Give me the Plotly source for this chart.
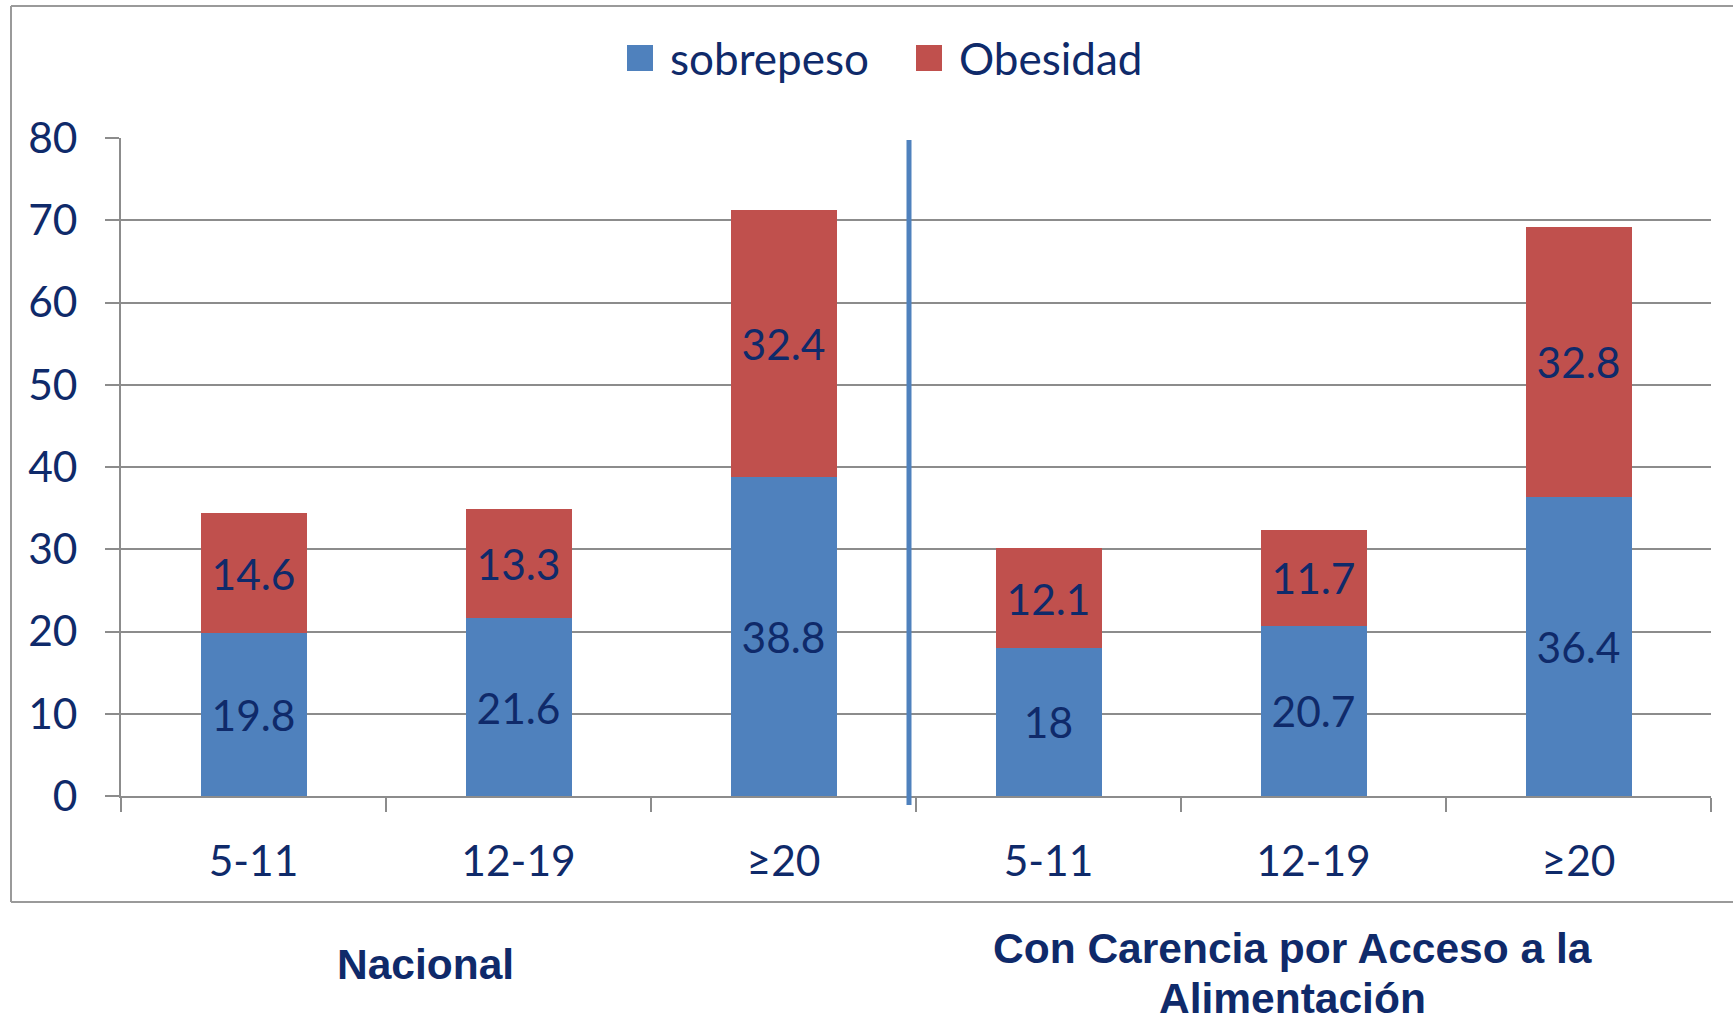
import plotly.graph_objects as go

# ---- data ----
categories = ["5-11", "12-19", "≥20", "5-11", "12-19", "≥20"]
group_labels = [["Nacional"], ["Con Carencia por Acceso a la", "Alimentación"]]
series_names = ["sobrepeso", "Obesidad"]
sobrepeso = [19.8, 21.6, 38.8, 18, 20.7, 36.4]
obesidad = [14.6, 13.3, 32.4, 12.1, 11.7, 32.8]
y_ticks = [0, 10, 20, 30, 40, 50, 60, 70, 80]

# ---- styling ----
W, H = 1733, 1018
L, R, T, B = 121, 1711, 138, 796          # plot area in pixels
BLUE = "#4F81BD"
RED = "#C0504D"
NAVY = "#0F2A6A"
GRID = "#8C8C8C"
FAMILY = "Lato, Carlito, Calibri, sans-serif"
TICK_FONT = dict(family=FAMILY, size=42.5, color=NAVY)


def px(x):
    return (x - L) / (R - L)


def py(y):
    return (B - y) / (B - T)


xpos = list(range(len(categories)))

fig = go.Figure()
for vals, name, col in [(sobrepeso, series_names[0], BLUE), (obesidad, series_names[1], RED)]:
    fig.add_trace(go.Bar(
        x=xpos, y=vals, name=name, marker_color=col,
        marker_line_width=0, text=vals, texttemplate="%{y}",
        textposition="inside", insidetextanchor="middle", textangle=0,
        constraintext="none", textfont=TICK_FONT, showlegend=False,
    ))

fig.update_layout(
    width=W, height=H, barmode="stack", bargap=0.6,
    margin=dict(l=L, r=W - R, t=T, b=H - B, pad=0),
    paper_bgcolor="white", plot_bgcolor="white",
    showlegend=False,
    font=TICK_FONT,
)
fig.update_xaxes(
    range=[-0.5, len(categories) - 0.5],
    tickmode="array", tickvals=xpos, ticktext=categories,
    ticks="", tickfont=TICK_FONT, ticklabelstandoff=27,
    showgrid=False, zeroline=False,
    showline=True, linecolor=GRID, linewidth=2,
    minor=dict(tick0=-0.5, dtick=1, ticks="outside", ticklen=14,
               tickcolor=GRID, tickwidth=2, showgrid=False),
)
fig.update_yaxes(
    range=[0, 80], tickmode="array", tickvals=y_ticks,
    ticks="outside", ticklen=14, tickcolor=GRID, tickwidth=2,
    tickfont=TICK_FONT, ticklabelstandoff=19,
    showgrid=True, gridcolor=GRID, gridwidth=2,
    zeroline=False, showline=True, linecolor=GRID, linewidth=2,
)

shapes = []
# outer border (left, top, bottom)
bx0, by0, by1 = 11, 6, 902
shapes.append(dict(type="line", xref="paper", yref="paper", x0=px(bx0), x1=px(bx0),
                   y0=py(by0), y1=py(by1), line=dict(color="#9A9A9A", width=2)))
shapes.append(dict(type="line", xref="paper", yref="paper", x0=px(bx0), x1=px(W + 5),
                   y0=py(by0), y1=py(by0), line=dict(color="#9A9A9A", width=2)))
shapes.append(dict(type="line", xref="paper", yref="paper", x0=px(bx0), x1=px(W + 5),
                   y0=py(by1), y1=py(by1), line=dict(color="#9A9A9A", width=2)))
# group divider
shapes.append(dict(type="line", xref="paper", yref="paper", x0=px(909), x1=px(909),
                   y0=py(140), y1=py(805), line=dict(color=BLUE, width=5)))
# legend swatches
for (x0, x1), col in [((627, 653), BLUE), ((916, 942), RED)]:
    shapes.append(dict(type="rect", xref="paper", yref="paper", x0=px(x0), x1=px(x1),
                       y0=py(71), y1=py(45), line_width=0, fillcolor=col))
fig.update_layout(shapes=shapes)

annotations = []
for name, xl in zip(series_names, [668, 957]):
    annotations.append(dict(text=name, xref="paper", yref="paper", x=px(xl), y=py(58),
                            xanchor="left", yanchor="middle", showarrow=False,
                            font=dict(family=FAMILY, size=44, color=NAVY)))
group_pos = [(425, [964]), (1292, [948, 998])]
for lines, (xc, ys) in zip(group_labels, group_pos):
    for line, yc in zip(lines, ys):
        annotations.append(dict(text="<b>" + line + "</b>",
                                xref="paper", yref="paper", x=px(xc), y=py(yc),
                                xanchor="center", yanchor="middle", showarrow=False,
                                font=dict(family="Liberation Sans, Arial, sans-serif",
                                          size=42.5, color=NAVY)))
fig.update_layout(annotations=annotations)

fig.write_html("out.html", config={"displayModeBar": False},
               post_script="document.body.style.margin='0';")
